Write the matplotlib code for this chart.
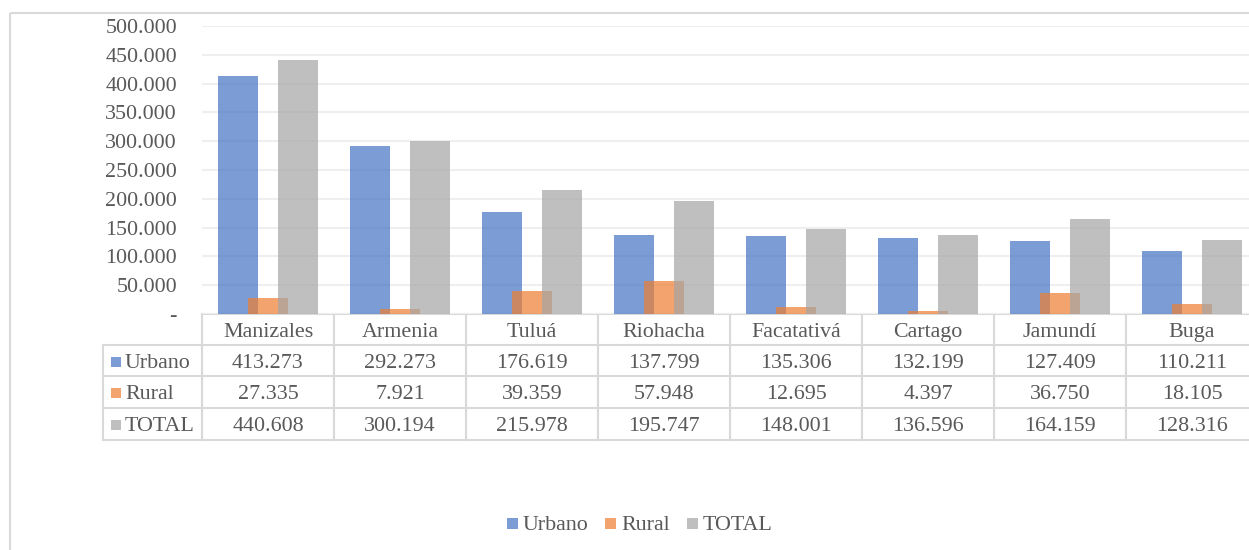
import matplotlib
matplotlib.use("Agg")
import matplotlib.pyplot as plt
from matplotlib.patches import Rectangle
from matplotlib.ticker import FuncFormatter

categories = ["Manizales", "Armenia", "Tuluá", "Riohacha", "Facatativá", "Cartago", "Jamundí", "Buga"]
series_names = ["Urbano", "Rural", "TOTAL"]
urbano = [413273, 292273, 176619, 137799, 135306, 132199, 127409, 110211]
rural = [27335, 7921, 39359, 57948, 12695, 4397, 36750, 18105]
total = [440608, 300194, 215978, 195747, 148001, 136596, 164159, 128316]
yticks = [0, 50000, 100000, 150000, 200000, 250000, 300000, 350000, 400000, 450000, 500000]

colors = ["#4472C4", "#ED7D31", "#A5A5A5"]
alpha = 0.7
txt = "#595959"
line_c = "#D9D9D9"
FS = 15.8
plt.rcParams['font.family'] = ['Liberation Serif', 'DejaVu Serif']

W, H = 1249, 550
fig = plt.figure(figsize=(W / 100, H / 100), dpi=100)

# overlay in pixel coordinates
ov = fig.add_axes([0, 0, 1, 1], zorder=0)
ov.set_xlim(0, W)
ov.set_ylim(H, 0)
ov.axis("off")

# chart border
ov.plot([10, 10], [13, H + 5], color=line_c, lw=1.5, solid_capstyle="butt")
ov.plot([10, W + 5], [13, 13], color=line_c, lw=1.5, solid_capstyle="butt")

x0_px, y0_px, y500_px = 202, 314, 26
col_w = 132
ax = fig.add_axes([x0_px / W, (H - y0_px) / H, col_w * len(categories) / W, (y0_px - y500_px) / H], zorder=2)
ax.patch.set_alpha(0)
n = len(categories)
xs = list(range(n))
bw = 40 / col_w
off = 30 / col_w
data = [urbano, rural, total]
for i, (vals, c) in enumerate(zip(data, colors)):
    ax.bar([x + (i - 1) * off for x in xs], vals, width=bw, color=c, alpha=alpha, zorder=3 + i, linewidth=0)
ax.set_xlim(-0.5, n - 0.5)
ax.set_ylim(0, 500000)
ax.set_yticks(yticks)
ax.yaxis.set_major_formatter(FuncFormatter(lambda v, p: "-" if v == 0 else f"{int(v):,}".replace(",", ".")))
ax.tick_params(axis="y", length=0, pad=18, labelsize=FS, labelcolor=txt)
ax.set_xticks([])
for s in ax.spines.values():
    s.set_visible(False)
ax.grid(axis="y", color="#EFEFEF", lw=1.5, zorder=0)
ax.set_axisbelow(True)

# data table
row_y = [314, 345, 376, 408, 440]
left_lab = 103
right_end = x0_px + col_w * n
ov.plot([x0_px, right_end], [row_y[0], row_y[0]], color=line_c, lw=1.5, zorder=5)
for y in row_y[1:]:
    ov.plot([left_lab, right_end], [y, y], color=line_c, lw=1.5, zorder=5)
ov.plot([left_lab, left_lab], [row_y[1], row_y[-1]], color=line_c, lw=1.5, zorder=5)
for j in range(n + 1):
    xv = x0_px + col_w * j
    ov.plot([xv, xv], [row_y[0], row_y[-1]], color=line_c, lw=1.5, zorder=5)

def fmt(v):
    return f"{v:,}".replace(",", ".")

for j, cat in enumerate(categories):
    cx = x0_px + col_w * (j + 0.5)
    ov.text(cx, (row_y[0] + row_y[1]) / 2 + 3, cat, ha="center", va="center", fontsize=FS, color=txt)
    for r, vals in enumerate(data):
        ov.text(cx, (row_y[r + 1] + row_y[r + 2]) / 2 + 2.5, fmt(vals[j]), ha="center", va="center", fontsize=FS, color=txt)

for r, (name, c) in enumerate(zip(series_names, colors)):
    yc = (row_y[r + 1] + row_y[r + 2]) / 2
    ov.add_patch(Rectangle((111, yc - 4), 10, 10, color=c, alpha=alpha, lw=0))
    ov.text(125, yc + 2.5, name, ha="left", va="center", fontsize=FS, color=txt)

# legend
leg_items = [(507, "Urbano"), (605, "Rural"), (687, "TOTAL")]
for (lx, name), c in zip(leg_items, colors):
    ov.add_patch(Rectangle((lx, 523 - 5.5), 11, 11, color=c, alpha=alpha, lw=0))
    ov.text(lx + 16, 526, name, ha="left", va="center", fontsize=FS, color=txt)

fig.savefig("out.png", dpi=100)
